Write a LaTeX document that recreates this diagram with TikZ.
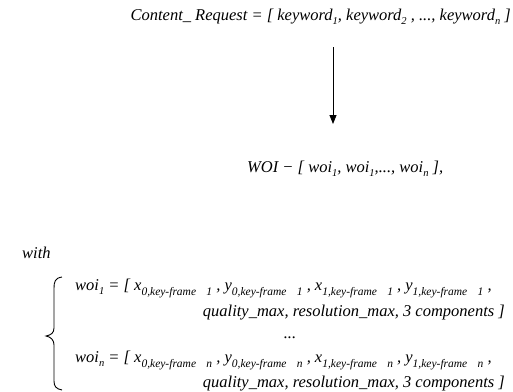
\documentclass[tikz,border=0pt]{standalone}
\usepackage{fontspec}
\setmainfont{Liberation Serif}
\usetikzlibrary{arrows.meta}
\newcommand\sbs[1]{\raisebox{-0.3em}{\fontsize{10.5}{11}\selectfont #1}}
\newcommand\kfs[2]{\raisebox{-0.32em}{\fontsize{11.5}{12}\selectfont #1,key-frame\hspace{0.9em}#2}}
\tikzset{
  eq/.style={inner sep=0pt, font=\fontsize{16.5}{19}\selectfont\itshape},
  flow/.style={line width=0.8pt, -{Triangle[width=7pt,length=9pt]}},
  bracestroke/.style={line width=0.9pt}
}
\begin{document}
\begin{tikzpicture}[x=1pt,y=-1pt]
\useasboundingbox (0,0) rectangle (513,391);
\node[eq, anchor=base east] (req) at (511,20) {Content\_ Request = [ keyword\sbs{1}, keyword\sbs{2} , ..., keyword\sbs{n} ]};
\node[eq, anchor=base west] (woi) at (247,172) {WOI − [ woi\sbs{1}, woi\sbs{1},..., woi\sbs{n} ],};
\coordinate (atop) at (333,47);
\coordinate (abot) at (333,124);
\draw[flow] (atop) -- (abot);
\node[eq, anchor=base west] (with) at (22,258) {with};
\node[eq, anchor=base west] (w1) at (75,290) {woi\sbs{1} = [ x\kfs{0}{1} , y\kfs{0}{1} , x\kfs{1}{1} , y\kfs{1}{1} ,};
\node[eq, anchor=base east] (q1) at (505,316) {quality\_max, resolution\_max, 3 components ]};
\node[eq, anchor=base] (dots) at (290,338) {...};
\node[eq, anchor=base west] (wn) at (75,362) {woi\sbs{n} = [ x\kfs{0}{n} , y\kfs{0}{n} , x\kfs{1}{n} , y\kfs{1}{n} ,};
\node[eq, anchor=base east] (qn) at (505,387) {quality\_max, resolution\_max, 3 components ]};
\draw[bracestroke] (62,277) .. controls (55,278) and (54,282) .. (54,288)
  -- (54,328) .. controls (54,333) and (51,335) .. (46,336)
  .. controls (51,337) and (54,340) .. (54,345)
  -- (54,381) .. controls (54,386) and (56,389) .. (62,390);
\end{tikzpicture}
\end{document}
